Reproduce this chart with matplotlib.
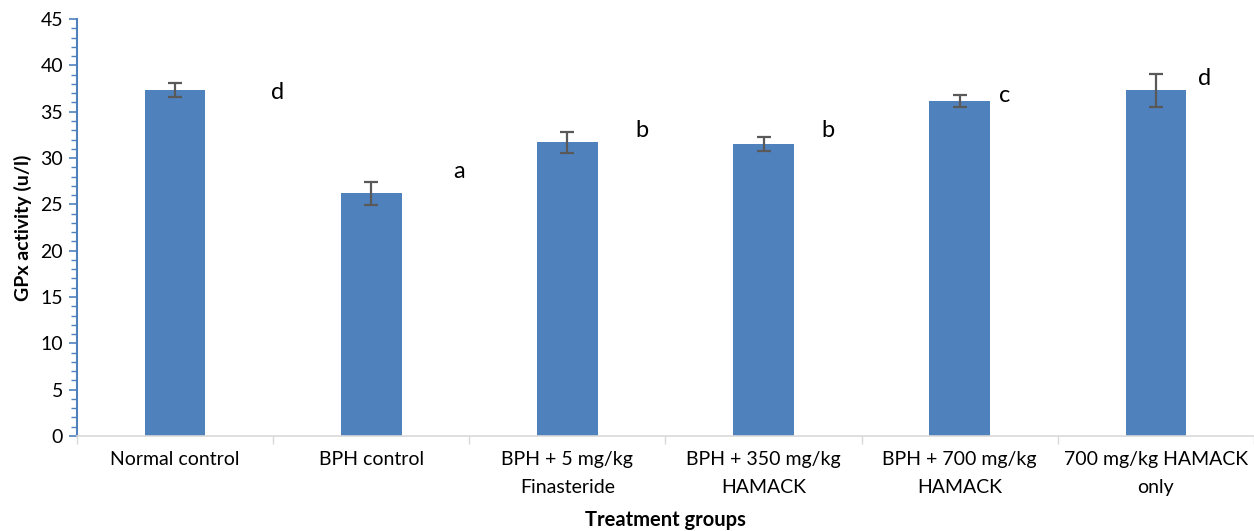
import matplotlib
matplotlib.use("Agg")
import matplotlib.pyplot as plt
from matplotlib.ticker import MultipleLocator

plt.rcParams['font.family'] = ['Lato', 'DejaVu Sans']

groups = ["Normal control", "BPH control", "BPH + 5 mg/kg\nFinasteride",
          "BPH + 350 mg/kg\nHAMACK", "BPH + 700 mg/kg\nHAMACK", "700 mg/kg HAMACK\nonly"]
gpx = [37.3, 26.2, 31.7, 31.5, 36.15, 37.3]
gpx_err = [0.75, 1.25, 1.1, 0.75, 0.65, 1.8]
letters = ["d", "a", "b", "b", "c", "d"]
letter_x = [0.52, 1.45, 2.38, 3.33, 4.23, 5.25]
letter_y = [37.1, 28.5, 33.0, 33.0, 36.8, 38.6]

bar_color = "#4F81BD"
fig = plt.figure(figsize=(12.54, 5.31), dpi=100)
ax = fig.add_axes([0.0614, 0.179, 0.9386, 0.785])

x = range(len(groups))
ax.bar(x, gpx, width=0.31, color=bar_color, zorder=2)
ax.errorbar(x, gpx, yerr=gpx_err, fmt="none", ecolor="#595959",
            elinewidth=1.6, capsize=5, capthick=1.6, zorder=3)

for lx, ly, t in zip(letter_x, letter_y, letters):
    ax.text(lx, ly, t, fontsize=17, ha="center", va="center", color="black")

ax.set_xlim(-0.5, 5.5)
ax.set_ylim(0, 45)
ax.yaxis.set_major_locator(MultipleLocator(5))
ax.yaxis.set_minor_locator(MultipleLocator(1))
ax.tick_params(axis="y", which="major", length=6, width=1.2, color=bar_color,
               labelsize=14, pad=4)
ax.tick_params(axis="y", which="minor", length=4, width=1.0, color=bar_color)

ax.set_xticks(list(x))
ax.set_xticklabels(groups, fontsize=14, linespacing=1.8)
ax.tick_params(axis="x", which="major", length=0, pad=11)
ax.set_xticks([i - 0.5 for i in range(len(groups) + 1)], minor=True)
ax.tick_params(axis="x", which="minor", length=6, width=1.0, color="#d9d9d9")

for side in ("top", "right"):
    ax.spines[side].set_visible(False)
ax.spines["left"].set_color(bar_color)
ax.spines["left"].set_linewidth(1.5)
ax.spines["bottom"].set_color("#d9d9d9")
ax.spines["bottom"].set_linewidth(1.2)

ax.set_ylabel("GPx activity (u/l)", fontsize=14, fontweight="bold", labelpad=6)
ax.set_xlabel("Treatment groups", fontsize=14.5, fontweight="bold", labelpad=10)

fig.savefig("out.png", dpi=100)
